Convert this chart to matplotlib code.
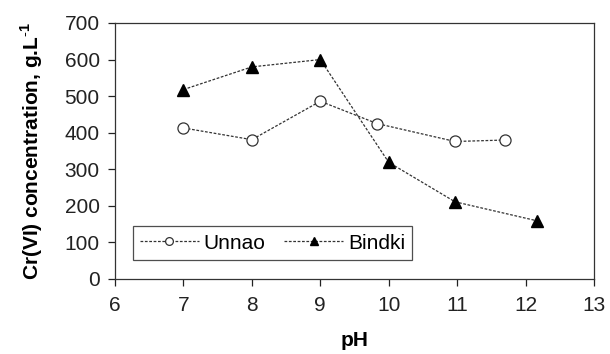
import numpy as np
import matplotlib.pyplot as plt

plt.rcParams['font.family'] = ['Liberation Sans', 'DejaVu Sans']
plt.rcParams['mathtext.fontset'] = 'custom'
plt.rcParams['mathtext.rm'] = 'Liberation Sans'
plt.rcParams['mathtext.bf'] = 'Liberation Sans:bold'

# Data
unnao_ph = [7.0, 8.0, 9.0, 9.83, 10.97, 11.7]
unnao_cr = [413, 381, 486, 425, 376, 380]
bindki_ph = [7.0, 8.0, 9.0, 10.0, 10.97, 12.17]
bindki_cr = [518, 580, 600, 319, 211, 159]

fig = plt.figure(figsize=(6.10, 3.54), dpi=100)
ax = fig.add_axes([115 / 610, 1 - 279 / 354, (594 - 115) / 610, (279 - 23) / 354])

ls = (0, (2.2, 1.3))
ax.plot(unnao_ph, unnao_cr, color='#333333', linestyle=ls, linewidth=0.9,
        marker='o', markersize=8, markerfacecolor='white', markeredgecolor='#333333',
        markeredgewidth=0.9, label='Unnao')
ax.plot(bindki_ph, bindki_cr, color='#333333', linestyle=ls, linewidth=0.9,
        marker='^', markersize=8, markerfacecolor='black', markeredgecolor='black',
        label='Bindki')

ax.set_xlim(6, 13)
ax.set_ylim(0, 700)
ax.set_xticks(range(6, 14))
ax.set_yticks(range(0, 701, 100))
ax.tick_params(direction='out', length=5, width=0.9, labelsize=15, colors='#222222')
ax.tick_params(axis='x', pad=7)
ax.tick_params(axis='y', pad=6)
for s in ax.spines.values():
    s.set_linewidth(0.9)
    s.set_color('#333333')

ax.set_xlabel('pH', fontsize=15, fontweight='bold', labelpad=12)
ax.set_ylabel('Cr(VI) concentration, g.L$^{\\mathbf{\\text{-}1}}$', fontsize=15,
              fontweight='bold', labelpad=14)

leg = ax.legend(loc='lower left', bbox_to_anchor=(18 / 479, 19 / 256), ncol=2,
                fontsize=15, frameon=True, fancybox=False, handlelength=2.8,
                handletextpad=0.25, columnspacing=0.9, borderpad=0.35, markerscale=0.7,
                borderaxespad=0, edgecolor='#222222')
leg.get_frame().set_linewidth(0.9)

fig.savefig('out.png', dpi=100)
